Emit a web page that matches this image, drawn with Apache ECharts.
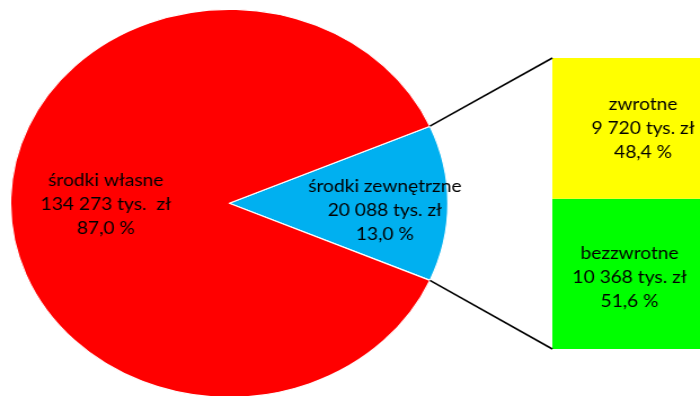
<!DOCTYPE html>
<html><head><meta charset="utf-8">
<script src="https://cdn.jsdelivr.net/npm/echarts@6/dist/echarts.min.js"></script>
<style>
html,body{margin:0;padding:0;background:#fff;overflow:hidden;}
#wrap{width:700px;height:396px;overflow:hidden;position:relative;}
#chart{width:621px;height:396px;transform:scaleX(1.1272);transform-origin:0 0;}
</style></head><body>
<div id="wrap"><div id="chart"></div></div>
<script>
// ---- data ----
const pieNames = ['środki zewnętrzne', 'środki własne'];
const pieValues = [20088, 134273];
const pieValueLabels = ['20 088 tys. zł', '134 273 tys.  zł'];
const piePercents = ['13,0 %', '87,0 %'];
const pieColors = ['#00B0F0', '#FF0000'];

const barCategory = ['środki zewnętrzne'];
const barNames = ['bezzwrotne', 'zwrotne'];
const barValues = [10368, 9720];
const barValueLabels = ['10 368 tys. zł', '9 720 tys. zł'];
const barPercents = ['51,6 %', '48,4 %'];
const barColors = ['#00FF00', '#FFFF00'];

// ---- layout ----
const PIE_CX = 203.4, PIE_CY = 203.3, PIE_R = 194;
const pieTotal = pieValues.reduce((a, b) => a + b, 0);
const share = pieValues[0] / pieTotal;
const barTotal = barValues.reduce((a, b) => a + b, 0);
const FONT = 'Lato';

const chart = echarts.init(document.getElementById('chart'), null, { renderer: 'canvas' });

const labelStyle = {
  color: '#000', fontFamily: FONT, fontSize: 17, lineHeight: 24, align: 'center'
};

const barSeries = barNames.map((n, i) => ({
  type: 'bar', name: n, stack: 'ext', barWidth: '100%',
  data: [barValues[i]],
  itemStyle: { color: barColors[i] },
  label: Object.assign({
    show: true, position: 'inside',
    offset: i === 0 ? [3, 4] : [15, 0],
    formatter: () => barNames[i] + '\n' + barValueLabels[i] + '\n' + barPercents[i]
  }, labelStyle),
  silent: true
}));

chart.setOption({
  animation: false,
  backgroundColor: '#fff',
  grid: { left: 490, top: 58, width: 154, height: 291, containLabel: false },
  xAxis: { type: 'category', data: barCategory, show: false, boundaryGap: true },
  yAxis: { type: 'value', min: 0, max: barTotal, show: false },
  series: [
    {
      type: 'pie',
      center: [PIE_CX, PIE_CY],
      radius: [0, PIE_R],
      startAngle: 360 * share / 2,
      clockwise: true,
      silent: true,
      itemStyle: { borderColor: '#fff', borderWidth: 1.2 },
      data: pieNames.map((n, i) => ({ name: n, value: pieValues[i], itemStyle: { color: pieColors[i] } })),
      label: Object.assign({
        show: true, position: 'inside',
        formatter: p => pieNames[p.dataIndex] + '\n' + pieValueLabels[p.dataIndex] + '\n' + piePercents[p.dataIndex]
      }, labelStyle),
      labelLine: { show: false },
      labelLayout: p => (p.dataIndex === 0 ? { dx: 38, dy: 7 } : { dx: -9.5, dy: 1 })
    },
    ...barSeries,
    {
      type: 'custom', coordinateSystem: 'cartesian2d', clip: false, silent: true, z: 5,
      data: [[0, barTotal]],
      renderItem: (params, api) => {
        const top = api.coord([0, barTotal]);
        const bot = api.coord([0, 0]);
        const half = api.size([1, 0])[0] / 2;
        const a = Math.PI * share;
        const px = PIE_CX + PIE_R * Math.cos(a);
        const dy = PIE_R * Math.sin(a);
        const st = { stroke: '#000', lineWidth: 1.6 };
        return {
          type: 'group', children: [
            { type: 'line', shape: { x1: px, y1: PIE_CY - dy, x2: top[0] - half, y2: top[1] }, style: st },
            { type: 'line', shape: { x1: px, y1: PIE_CY + dy, x2: bot[0] - half, y2: bot[1] }, style: st }
          ]
        };
      }
    }
  ]
});
</script>
</body></html>
